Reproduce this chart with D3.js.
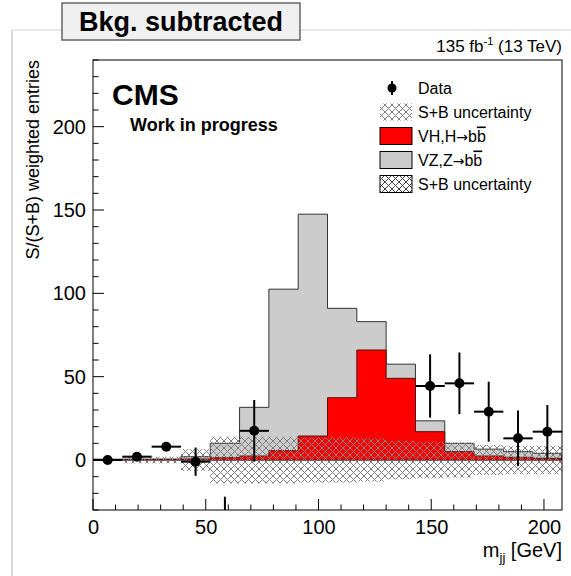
<!DOCTYPE html>
<html>
<head>
<meta charset="utf-8">
<script src="https://cdn.jsdelivr.net/npm/d3@7"></script>
<style>
  body { margin: 0; background: #fff; }
  svg { font-family: "Liberation Sans", Arial, Helvetica, sans-serif; }
</style>
</head>
<body>
<div id="chart"></div>
<script>
// bin edges of the mjj histogram (GeV)
var binEdges = [0, 13, 26, 39, 52, 65, 78, 91, 104, 117, 130, 143, 156, 169, 182, 195, 208];

// signal VH, H->bb (red), per bin
var vhValues = [0.2, 0.3, 0.4, 0.6, 1.4, 2.4, 5.6, 14.4, 37.4, 66, 49, 17, 5, 2.4, 1.6, 1];
// VZ, Z->bb (gray), stacked on top of VH
var vzValues = [0.3, 0.2, 0.1, 1.4, 8.6, 29.2, 96.9, 133.1, 53.6, 17, 8.5, 6.5, 5, 4.1, 3.4, 3];
// S+B uncertainty half width, around zero
var uncValues = [0.5, 2, 2, 6.5, 14, 14, 14, 13.5, 13.5, 13, 11.5, 11, 10.5, 9, 8.5, 8.5];

// background subtracted data (null = not shown)
var dataValues = [0, 2, 8, -1, -40, 17.5, null, null, null, null, null, 44.4, 46, 29, 13, 17];
var dataErrors = [0.5, 1, 1.5, 8.5, 18, 18.5, null, null, null, null, null, 19, 18.5, 18, 16.7, 16];

var xTicks = [0, 50, 100, 150, 200];
var yTicks = [0, 50, 100, 150, 200];

var W = 571, H = 576;
var frame = { left: 93, right: 562, top: 60, bottom: 510 };

var x = d3.scaleLinear().domain([0, 208]).range([frame.left, frame.right]);
var y = d3.scaleLinear().domain([-30, 240]).range([frame.bottom, frame.top]);

var svg = d3.select("#chart").append("svg")
  .attr("width", W)
  .attr("height", H);

var defs = svg.append("defs");

function hatch(id, color, size) {
  var p = defs.append("pattern")
    .attr("id", id)
    .attr("patternUnits", "userSpaceOnUse")
    .attr("width", size)
    .attr("height", size);
  p.append("path")
    .attr("d", "M0,0L" + size + "," + size + "M" + size + ",0L0," + size)
    .attr("stroke", color)
    .attr("stroke-width", 1)
    .attr("fill", "none");
}
hatch("hatchLight", "#7f7f7f", 7);
hatch("hatchDark", "#444", 7);

defs.append("clipPath").attr("id", "plotClip")
  .append("rect")
  .attr("x", frame.left)
  .attr("y", frame.top)
  .attr("width", frame.right - frame.left)
  .attr("height", frame.bottom - frame.top);

// slide edge
svg.append("line").attr("x1", 12).attr("x2", 12).attr("y1", 30).attr("y2", H)
  .attr("stroke", "#d9d9d9").attr("stroke-width", 2);
svg.append("line").attr("x1", 12).attr("x2", W).attr("y1", 30).attr("y2", 30)
  .attr("stroke", "#e6e6e6").attr("stroke-width", 2);

// header box
svg.append("rect")
  .attr("x", 62).attr("y", 3).attr("width", 238).attr("height", 37)
  .attr("fill", "#f0f0f0").attr("stroke", "#666").attr("stroke-width", 1.5);
svg.append("text")
  .attr("x", 181).attr("y", 31)
  .attr("text-anchor", "middle")
  .attr("font-size", 27).attr("font-weight", "bold")
  .text("Bkg. subtracted");

var plot = svg.append("g").attr("clip-path", "url(#plotClip)");

// step path for histogram tops
function stepArea(tops) {
  var d = "M" + x(binEdges[0]) + "," + y(0);
  tops.forEach(function(v, i) {
    d += "L" + x(binEdges[i]) + "," + y(v) + "L" + x(binEdges[i + 1]) + "," + y(v);
  });
  d += "L" + x(binEdges[binEdges.length - 1]) + "," + y(0) + "Z";
  return d;
}

var totals = vhValues.map(function(v, i) { return v + vzValues[i]; });

plot.append("path")
  .attr("d", stepArea(totals))
  .attr("fill", "#cccccc")
  .attr("stroke", "#333")
  .attr("stroke-width", 1);

plot.append("path")
  .attr("d", stepArea(vhValues))
  .attr("fill", "#ff0000")
  .attr("stroke", "#5a1010")
  .attr("stroke-width", 1);

// uncertainty band
plot.selectAll("rect.unc")
  .data(uncValues)
  .enter().append("rect")
  .attr("class", "unc")
  .attr("x", function(d, i) { return x(binEdges[i]); })
  .attr("width", function(d, i) { return x(binEdges[i + 1]) - x(binEdges[i]); })
  .attr("y", function(d) { return y(d); })
  .attr("height", function(d) { return y(-d) - y(d); })
  .attr("fill", "url(#hatchLight)");

// data points
var pts = dataValues.map(function(v, i) {
  return { lo: binEdges[i], hi: binEdges[i + 1], v: v, e: dataErrors[i] };
}).filter(function(d) { return d.v !== null; });

var dg = plot.append("g");
dg.selectAll("line.ex")
  .data(pts).enter().append("line")
  .attr("x1", function(d) { return x(d.lo); })
  .attr("x2", function(d) { return x(d.hi); })
  .attr("y1", function(d) { return y(d.v); })
  .attr("y2", function(d) { return y(d.v); })
  .attr("stroke", "#000").attr("stroke-width", 2);
dg.selectAll("line.ey")
  .data(pts).enter().append("line")
  .attr("x1", function(d) { return x((d.lo + d.hi) / 2); })
  .attr("x2", function(d) { return x((d.lo + d.hi) / 2); })
  .attr("y1", function(d) { return y(d.v - d.e); })
  .attr("y2", function(d) { return y(d.v + d.e); })
  .attr("stroke", "#000").attr("stroke-width", 2);
dg.selectAll("circle")
  .data(pts).enter().append("circle")
  .attr("cx", function(d) { return x((d.lo + d.hi) / 2); })
  .attr("cy", function(d) { return y(d.v); })
  .attr("r", 5)
  .attr("fill", "#000");

// frame
svg.append("rect")
  .attr("x", frame.left).attr("y", frame.top)
  .attr("width", frame.right - frame.left).attr("height", frame.bottom - frame.top)
  .attr("fill", "none").attr("stroke", "#000").attr("stroke-width", 1);

// axes (ROOT style ticks inside)
var xAxis = d3.axisBottom(x).tickValues(xTicks).tickSize(0).tickPadding(10);
var gx = svg.append("g").attr("transform", "translate(0," + frame.bottom + ")").call(xAxis);
gx.select(".domain").remove();
gx.selectAll("text").attr("font-size", 20).attr("fill", "#000")
  .attr("font-family", "Liberation Sans, Arial, sans-serif");

var yAxis = d3.axisLeft(y).tickValues(yTicks).tickSize(0).tickPadding(7);
var gy = svg.append("g").attr("transform", "translate(" + frame.left + ",0)").call(yAxis);
gy.select(".domain").remove();
gy.selectAll("text").attr("font-size", 20).attr("fill", "#000")
  .attr("font-family", "Liberation Sans, Arial, sans-serif");

var tk = svg.append("g").attr("stroke", "#000").attr("stroke-width", 1);
x.ticks(21).forEach(function(t) {
  var len = (t % 50 === 0) ? 11 : 5.5;
  tk.append("line").attr("x1", x(t)).attr("x2", x(t))
    .attr("y1", frame.bottom).attr("y2", frame.bottom - len);
});
y.ticks(27).forEach(function(t) {
  var len = (t % 50 === 0) ? 11 : 5.5;
  tk.append("line").attr("x1", frame.left).attr("x2", frame.left + len)
    .attr("y1", y(t)).attr("y2", y(t));
});

// axis titles
svg.append("text")
  .attr("transform", "translate(39," + frame.top + ") rotate(-90)")
  .attr("text-anchor", "end")
  .attr("font-size", 18)
  .text("S/(S+B) weighted entries");

var xt = svg.append("text")
  .attr("x", frame.right).attr("y", 557)
  .attr("text-anchor", "end")
  .attr("font-size", 20);
xt.append("tspan").text("m");
xt.append("tspan").attr("font-size", 13).attr("dy", 5).text("jj");
xt.append("tspan").attr("dy", -5).text(" [GeV]");

// lumi label
var lt = svg.append("text")
  .attr("x", frame.right).attr("y", 52)
  .attr("text-anchor", "end")
  .attr("font-size", 17);
lt.append("tspan").text("135 fb");
lt.append("tspan").attr("font-size", 11).attr("dy", -7).text("-1");
lt.append("tspan").attr("dy", 7).text(" (13 TeV)");

svg.append("text").attr("x", 112).attr("y", 105)
  .attr("font-size", 30).attr("font-weight", "bold").text("CMS");
svg.append("text").attr("x", 130).attr("y", 131)
  .attr("font-size", 18).attr("font-weight", "bold").text("Work in progress");

// legend
var legendRows = [
  { label: "Data", kind: "data" },
  { label: "S+B uncertainty", kind: "hatchLight" },
  { label: "VH,H", arrow: true, bar: "b", kind: "vh" },
  { label: "VZ,Z", arrow: true, bar: "b", kind: "vz" },
  { label: "S+B uncertainty", kind: "hatchDark" }
];
var legY = d3.scalePoint().domain(d3.range(legendRows.length)).range([88, 184]);
var leg = svg.append("g");
legendRows.forEach(function(r, i) {
  var cy = legY(i);
  if (r.kind === "data") {
    leg.append("line").attr("x1", 392).attr("x2", 392).attr("y1", cy - 7).attr("y2", cy + 7)
      .attr("stroke", "#000").attr("stroke-width", 2);
    leg.append("circle").attr("cx", 392).attr("cy", cy).attr("r", 4.5).attr("fill", "#000");
  } else {
    var fill = r.kind === "vh" ? "#ff0000" : r.kind === "vz" ? "#cccccc" : "url(#" + r.kind + ")";
    leg.append("rect").attr("x", 380).attr("y", cy - 8.5).attr("width", 32).attr("height", 17)
      .attr("fill", fill)
      .attr("stroke", r.kind === "hatchLight" ? "none" : "#000")
      .attr("stroke-width", 1);
  }
  var t = leg.append("text").attr("x", 418).attr("y", cy + 5.5).attr("font-size", 16);
  t.append("tspan").text(r.label);
  if (r.arrow) {
    t.append("tspan").attr("font-family", "DejaVu Sans").attr("font-size", 14).text("\u2192");
    t.append("tspan").text("b");
  }
  if (r.bar) {
    t.append("tspan").attr("text-decoration", "overline").text(r.bar);
  }
});
</script>
</body>
</html>
